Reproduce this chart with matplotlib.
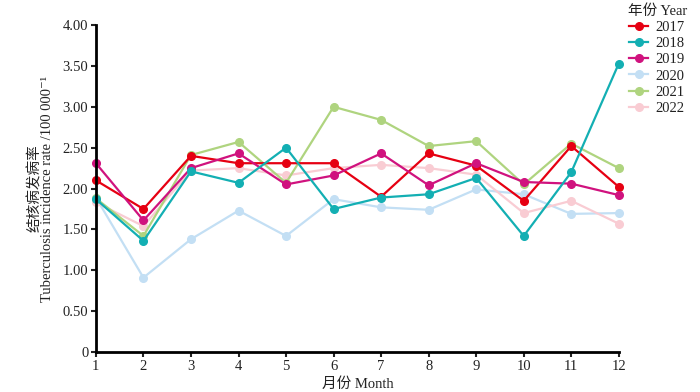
import matplotlib.pyplot as plt
import numpy as np

plt.rcParams['font.family'] = ['Liberation Serif', 'Noto Sans CJK SC', 'DejaVu Serif']
plt.rcParams['axes.unicode_minus'] = False

months = list(range(1, 13))
years = ['2017', '2018', '2019', '2020', '2021', '2022']
colors = ['#e60012', '#13afb3', '#d0127e', '#c3dff4', '#afd47f', '#f9ccd3']

rate_2017 = [2.10, 1.75, 2.40, 2.31, 2.31, 2.31, 1.90, 2.43, 2.28, 1.85, 2.52, 2.02]
rate_2018 = [1.87, 1.36, 2.21, 2.07, 2.50, 1.75, 1.89, 1.93, 2.13, 1.42, 2.20, 3.53]
rate_2019 = [2.31, 1.61, 2.25, 2.43, 2.05, 2.16, 2.43, 2.04, 2.31, 2.08, 2.06, 1.92]
rate_2020 = [1.89, 0.91, 1.38, 1.73, 1.42, 1.87, 1.77, 1.74, 1.99, 1.93, 1.69, 1.70]
rate_2021 = [1.88, 1.42, 2.41, 2.57, 2.07, 3.00, 2.84, 2.52, 2.58, 2.05, 2.55, 2.25]
rate_2022 = [1.83, 1.54, 2.22, 2.25, 2.16, 2.25, 2.29, 2.25, 2.17, 1.70, 1.85, 1.57]
rates = [rate_2017, rate_2018, rate_2019, rate_2020, rate_2021, rate_2022]

fig = plt.figure(figsize=(7, 3.92), dpi=100)
ax = fig.add_axes([0.137, 0.102, 0.747, 0.834])

# draw the pale ones first so the strong colours sit on top
order = [3, 5, 4, 0, 2, 1]
lines = {}
for i in order:
    ln, = ax.plot(months, rates[i], color=colors[i], marker='o', markersize=5.5,
                  linewidth=1.6, label=years[i], clip_on=False)
    lines[i] = ln

ax.set_xlim(1, 12)
ax.set_ylim(0, 4)
ax.set_xticks(months)
yt = np.arange(0, 4.01, 0.5)
ax.set_yticks(yt)
ax.set_yticklabels(['0'] + ['%.2f' % v for v in yt[1:]])
ax.spines['top'].set_visible(False)
ax.spines['right'].set_visible(False)
ax.spines['left'].set_linewidth(2)
ax.spines['bottom'].set_linewidth(2)
ax.tick_params(direction='out', width=1.5, length=3.5, labelsize=10.5, colors='#222222')
ax.tick_params(axis='x', pad=2)
ax.tick_params(axis='y', pad=2)

ax.set_xlabel('月份 Month', fontsize=10.5, labelpad=3, color='#222222')
ax.set_ylabel('结核病发病率\nTuberculosis incidence rate /100 000⁻¹', fontsize=10.5,
              labelpad=6, linespacing=0.95, color='#222222')

leg = ax.legend([lines[i] for i in range(6)], years, title='年份 Year',
                loc='upper left', bbox_to_anchor=(1.0, 1.09), frameon=False,
                fontsize=10.5, title_fontsize=10.5, handlelength=1.3,
                handletextpad=0.5, labelspacing=0.2, borderaxespad=0.2)
for t in leg.get_texts():
    t.set_color('#222222')
leg.get_title().set_color('#222222')

fig.savefig('out.png', dpi=100)
